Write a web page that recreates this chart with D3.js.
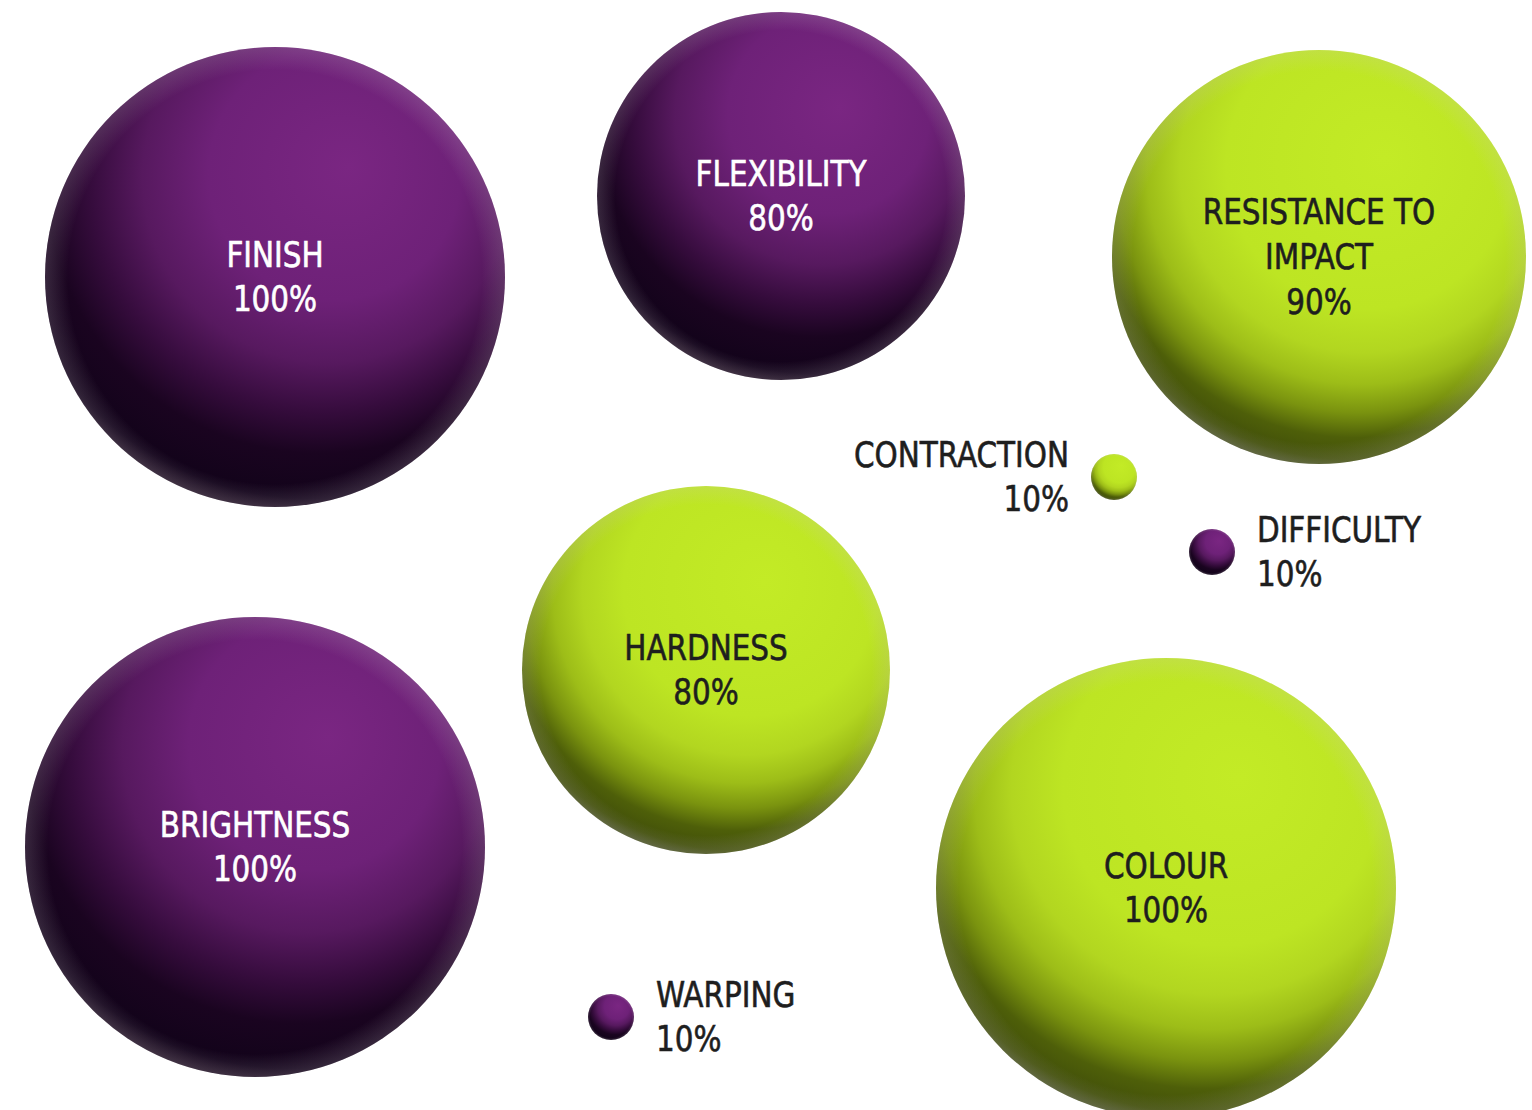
<!DOCTYPE html>
<html>
  <head>
    <meta charset="utf-8">
    <title>Material properties</title>
    <script src="https://cdn.jsdelivr.net/npm/d3@7"></script>
    <style>
      body {
        margin: 0;
        background: #fff;
      }
      .label text {
        font-family: 'DejaVu Sans Condensed', 'Liberation Sans Narrow', sans-serif;
        font-size: 36px;
        stroke-width: 0.6px;
      }
    </style>
  </head>
  <body>
    <script>

      // data
      var properties = ["FINISH", "FLEXIBILITY", "RESISTANCE TO\nIMPACT", "CONTRACTION",
                        "DIFFICULTY", "HARDNESS", "BRIGHTNESS", "COLOUR", "WARPING"];
      var scores     = [100, 80, 90, 10, 10, 80, 100, 100, 10];
      var groups     = ["purple", "purple", "green", "green",
                        "purple", "green", "purple", "green", "purple"];

      // layout (centres in a 1532 x 1110 design space, label side)
      var centreX   = [275, 781, 1319, 1114, 1212, 706, 255, 1166, 611];
      var centreY   = [277, 196, 257, 477, 552, 670, 847, 888, 1017];
      var labelSide = ["in", "in", "in", "left", "right", "in", "in", "in", "right"];

      var outerWidth = 1532;
      var outerHeight = 1110;
      var lineHeight = 45;
      var labelGap = 22;
      var squeeze = 0.91;   // the condensed face is still a bit wide

      var data = properties.map(function(p, i) {
        return { name: p, value: scores[i], group: groups[i],
                 x: centreX[i], y: centreY[i], side: labelSide[i] };
      });

      var xScale = d3.scaleLinear().domain([0, 1532]).range([0, outerWidth]);
      var yScale = d3.scaleLinear().domain([0, 1110]).range([0, outerHeight]);
      var rScale = d3.scaleLinear().domain([0, 100]).range([0, 230]);

      var textColour = { purple: "#ffffff", green: "#1e1e1e" };

      var svg = d3.select("body").append("svg")
        .attr("width", outerWidth)
        .attr("height", outerHeight);

      var defs = svg.append("defs");

      function shade(id, stops) {
        var grad = defs.append("radialGradient")
          .attr("id", id)
          .attr("cx", 0.58).attr("cy", 0.3).attr("r", 0.72)
          .attr("fx", 0.66).attr("fy", 0.26);
        grad.selectAll("stop").data(stops).enter().append("stop")
          .attr("offset", function(d) { return d[0]; })
          .attr("stop-color", function(d) { return d[1]; });
      }

      shade("shade-purple", [
        [0, "#7a2682"], [0.38, "#6e2178"], [0.56, "#57195f"],
        [0.7, "#360c3d"], [0.82, "#1a0420"], [0.95, "#12031a"], [1, "#231326"]
      ]);
      shade("shade-green", [
        [0, "#c3eb26"], [0.48, "#bde523"], [0.62, "#b2d620"],
        [0.72, "#9dbd18"], [0.81, "#7a930f"], [0.89, "#4e5f09"], [0.96, "#42500a"], [1, "#4a5328"]
      ]);

      var rim = defs.append("radialGradient").attr("id", "rim");
      rim.append("stop").attr("offset", 0.9).attr("stop-color", "#d0c8d0").attr("stop-opacity", 0);
      rim.append("stop").attr("offset", 1).attr("stop-color", "#d0c8d0").attr("stop-opacity", 0.18);

      var bubbles = svg.append("g").attr("class", "bubbles")
        .selectAll("g").data(data).enter().append("g")
        .attr("transform", function(d) {
          return "translate(" + xScale(d.x) + "," + yScale(d.y) + ")";
        });

      bubbles.append("circle")
        .attr("r", function(d) { return rScale(d.value); })
        .attr("fill", function(d) { return "url(#shade-" + d.group + ")"; });

      bubbles.append("circle")
        .attr("r", function(d) { return rScale(d.value); })
        .attr("fill", "url(#rim)");

      var labels = bubbles.append("g").attr("class", "label")
        .attr("transform", "scale(" + squeeze + ",1)")
        .append("text")
        .attr("text-anchor", function(d) {
          return d.side == "in" ? "middle" : (d.side == "left" ? "end" : "start");
        })
        .attr("fill", function(d) {
          return d.side == "in" ? textColour[d.group] : "#1e1e1e";
        })
        .attr("stroke", function(d) {
          return d.side == "in" ? textColour[d.group] : "#1e1e1e";
        });

      labels.each(function(d) {
        var lines = d.name.split("\n").concat([d.value + "%"]);
        var x = 0;
        if (d.side == "left") x = -rScale(d.value) - labelGap;
        if (d.side == "right") x = rScale(d.value) + labelGap;
        var top = 12 - (lines.length - 1) / 2 * lineHeight;
        d3.select(this).selectAll("tspan").data(lines).enter().append("tspan")
          .attr("x", x / squeeze)
          .attr("y", function(l, i) { return top + i * lineHeight; })
          .text(function(l) { return l; });
      });

    </script>
  </body>
</html>
